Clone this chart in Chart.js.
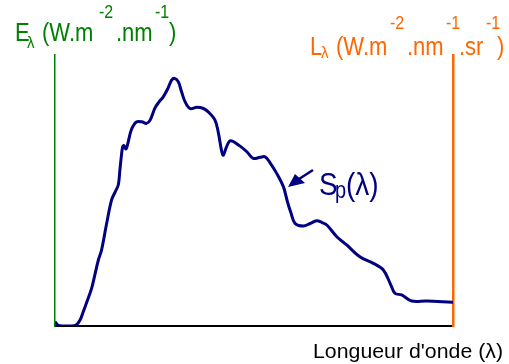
<!DOCTYPE html>
<html>
<head>
<meta charset="utf-8">
<script src="https://cdn.jsdelivr.net/npm/chart.js@4/dist/chart.umd.min.js"></script>
<style>
html,body{margin:0;padding:0;background:#fff;}
canvas{display:block;}
</style>
</head>
<body>
<canvas id="c" width="509" height="364"></canvas>
<script>
// Wavelength (nm, arbitrary linear axis) and spectral irradiance (W.m-2.nm-1)
const wavelength = [200, 207, 218, 238, 253, 263, 271, 280, 292, 300, 309, 317, 329, 342, 351, 359, 363, 367, 370, 373, 378, 382, 390, 396, 405, 418, 430, 439, 451, 461, 472, 484, 493, 501, 510, 518, 527, 539, 556, 573, 585, 602, 610, 619, 623, 631, 641, 665, 682, 698, 715, 728, 740, 757, 774, 784, 793, 803, 824, 841, 857, 871, 883, 908, 933, 966, 1000, 1025, 1042, 1054, 1071, 1096, 1134, 1197, 1200];
const irradiance = [0.031, 0.007, 0.0, 0.0, 0.007, 0.043, 0.102, 0.171, 0.268, 0.363, 0.470, 0.541, 0.719, 0.897, 0.954, 1.004, 1.110, 1.217, 1.276, 1.285, 1.260, 1.288, 1.383, 1.423, 1.454, 1.454, 1.443, 1.466, 1.552, 1.594, 1.632, 1.694, 1.751, 1.763, 1.739, 1.668, 1.596, 1.549, 1.557, 1.549, 1.525, 1.466, 1.383, 1.241, 1.217, 1.276, 1.319, 1.281, 1.241, 1.194, 1.201, 1.205, 1.164, 1.087, 0.991, 0.885, 0.804, 0.731, 0.712, 0.730, 0.749, 0.737, 0.719, 0.636, 0.577, 0.493, 0.446, 0.399, 0.304, 0.233, 0.221, 0.178, 0.178, 0.169, 0.169];
const seriesLabel = 'Sp(λ)';
const xTitle = "Longueur d'onde (λ)";

const NAVY = '#000080', GREEN = '#008000', ORANGE = '#FF6600';
const SY = 1.15; // vertical stretch of the original lettering

function txt(ctx, s, x, y, size, color, sy) {
  ctx.save();
  ctx.font = size + 'px "Liberation Sans", Arial, sans-serif';
  ctx.fillStyle = color;
  ctx.textBaseline = 'alphabetic';
  ctx.textAlign = 'left';
  ctx.translate(x, y);
  ctx.scale(1, sy || SY);
  ctx.fillText(s, 0, 0);
  ctx.restore();
}
function fitTxt(ctx, s, x0, x1, y, size, color, sy) {
  ctx.save();
  ctx.font = size + 'px "Liberation Sans", Arial, sans-serif';
  const w = ctx.measureText(s).width;
  ctx.fillStyle = color;
  ctx.translate(x0, y);
  ctx.scale((x1 - x0) / w, sy || 1);
  ctx.fillText(s, 0, 0);
  ctx.restore();
}

const labels = {
  id: 'labels',
  afterDraw(chart) {
    const ctx = chart.ctx;
    // Left axis title: E_λ (W.m^-2.nm^-1)
    txt(ctx, 'E', 15, 41, 22, GREEN);
    txt(ctx, 'λ', 27, 48, 15, GREEN);
    txt(ctx, '(W.m', 42, 41, 22, GREEN);
    txt(ctx, '-2', 99, 18, 16, GREEN);
    txt(ctx, '.nm', 116, 41, 22, GREEN);
    txt(ctx, '-1', 155, 18, 16, GREEN);
    txt(ctx, ')', 169, 41, 22, GREEN);
    // Right axis title: L_λ (W.m^-2.nm^-1.sr^-1)
    txt(ctx, 'L', 310, 55, 22, ORANGE);
    txt(ctx, 'λ', 321, 58, 15, ORANGE);
    txt(ctx, '(W.m', 336, 55, 22, ORANGE);
    txt(ctx, '-2', 390, 29, 16, ORANGE);
    txt(ctx, '.nm', 407, 55, 22, ORANGE);
    txt(ctx, '-1', 446, 29, 16, ORANGE);
    txt(ctx, '.sr', 459, 55, 22, ORANGE);
    txt(ctx, '-1', 486, 29, 16, ORANGE);
    txt(ctx, ')', 497, 55, 22, ORANGE);
    // Series label S_p(λ)
    txt(ctx, 'S', 319, 195, 28, NAVY);
    txt(ctx, 'p', 335, 198, 20, NAVY);
    txt(ctx, '(λ)', 346, 195, 28, NAVY);
    // Arrow
    ctx.save();
    ctx.strokeStyle = NAVY; ctx.fillStyle = NAVY; ctx.lineWidth = 2.5;
    ctx.beginPath(); ctx.moveTo(313, 170); ctx.lineTo(299, 179); ctx.stroke();
    ctx.beginPath(); ctx.moveTo(288, 187); ctx.lineTo(295, 174); ctx.lineTo(305, 183); ctx.closePath(); ctx.fill();
    ctx.restore();
    // X title
    fitTxt(ctx, xTitle, 313, 503, 358, 19, '#000', 1.03);
  }
};

new Chart(document.getElementById('c'), {
  type: 'line',
  data: {
    datasets: [{
      label: seriesLabel,
      data: wavelength.map((x, i) => ({x: x, y: irradiance[i]})),
      borderColor: NAVY,
      borderWidth: 3,
      pointRadius: 0,
      tension: 0.35,
      fill: false
    }]
  },
  options: {
    responsive: false,
    animation: false,
    devicePixelRatio: 1,
    layout: {padding: {left: 55, right: 56, top: 55, bottom: 38}},
    plugins: {legend: {display: false}, tooltip: {enabled: false}},
    scales: {
      x: {
        type: 'linear', min: 200, max: 1200,
        grid: {display: false}, ticks: {display: false},
        border: {display: true, color: '#000', width: 2},
        afterFit: s => { s.height = 0; }
      },
      y: {
        position: 'left', min: 0, max: 1.93,
        grid: {display: false}, ticks: {display: false},
        border: {display: true, color: GREEN, width: 1.5},
        afterFit: s => { s.width = 0; }
      },
      y2: {
        position: 'right', min: 0, max: 1.93,
        grid: {display: false}, ticks: {display: false},
        border: {display: true, color: ORANGE, width: 2.5},
        afterFit: s => { s.width = 0; }
      }
    }
  },
  plugins: [labels]
});
</script>
</body>
</html>
